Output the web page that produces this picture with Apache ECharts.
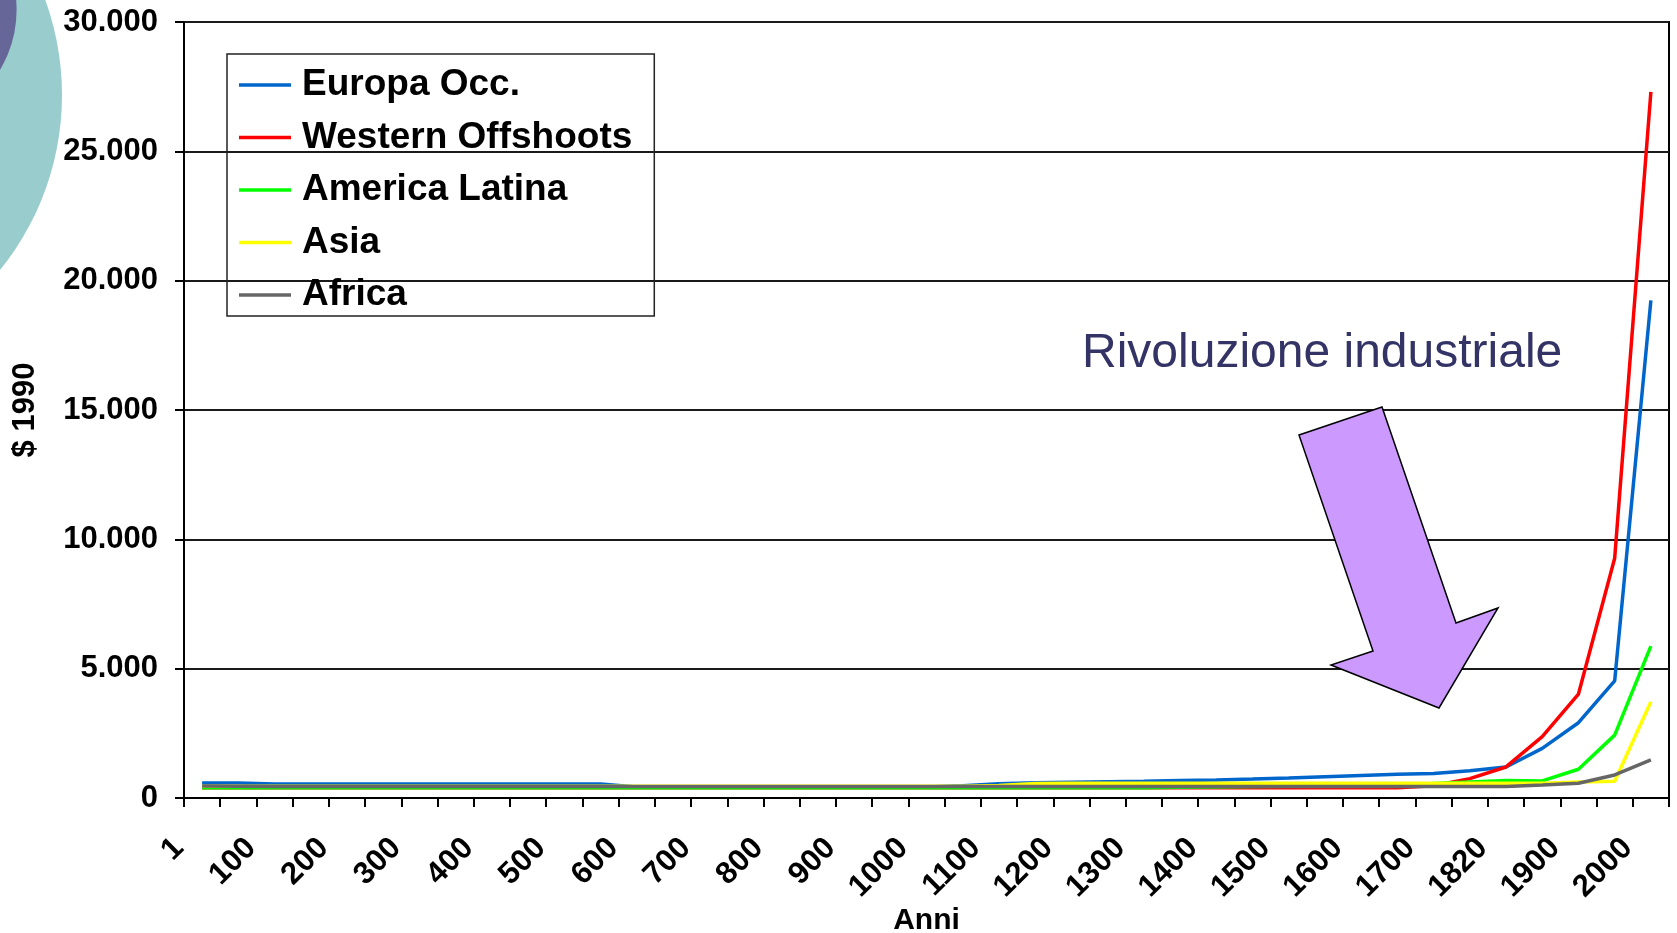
<!DOCTYPE html>
<html>
<head>
<meta charset="utf-8">
<title>PIL pro capite</title>
<script src="https://cdn.jsdelivr.net/npm/echarts/dist/echarts.min.js"></script>
<style>
html, body { margin: 0; padding: 0; background: #fff; }
#chart { width: 1677px; height: 933px; }
</style>
</head>
<body>
<div id="chart"></div>
<script>
// anni (categorie), etichette mostrate una si e una no
const anni = ['1', '50', '100', '150', '200', '250', '300', '350', '400', '450', '500', '550', '600', '650',
  '700', '750', '800', '850', '900', '950', '1000', '1050', '1100', '1150', '1200', '1250', '1300', '1350',
  '1400', '1450', '1500', '1550', '1600', '1650', '1700', '1760', '1820', '1870', '1900', '1950', '2000']

// PIL pro capite, $ 1990
const europaOcc = [576, 576, 540, 540, 540, 540, 540, 540, 540, 540, 540, 540, 430, 430,
  430, 430, 430, 430, 430, 430, 430, 470, 550, 590, 610, 630, 650, 680,
  700, 730, 770, 820, 870, 920, 950, 1050, 1200, 1920, 2910, 4530, 19240]
const westernOffshoots = [400, 400, 400, 400, 400, 400, 400, 400, 400, 400, 400, 400, 400, 400,
  400, 400, 400, 400, 400, 400, 400, 400, 400, 400, 400, 400, 400, 400,
  400, 400, 400, 400, 400, 400, 476, 750, 1200, 2370, 4020, 9270, 27300]
const americaLatina = [400, 400, 400, 400, 400, 400, 400, 400, 400, 400, 400, 400, 400, 400,
  400, 400, 400, 400, 400, 400, 400, 400, 400, 400, 400, 400, 400, 420,
  430, 440, 450, 460, 470, 520, 560, 620, 680, 660, 1110, 2430, 5870]
const asia = [450, 450, 450, 450, 450, 450, 450, 450, 450, 450, 450, 450, 450, 450,
  450, 450, 450, 450, 450, 450, 450, 450, 480, 560, 575, 575, 575, 575,
  575, 575, 575, 575, 575, 575, 575, 575, 575, 575, 620, 650, 3720]
const africa = [460, 450, 440, 440, 440, 440, 440, 440, 440, 440, 440, 440, 440, 440,
  440, 440, 440, 440, 440, 440, 440, 440, 440, 440, 440, 440, 440, 440,
  440, 440, 440, 440, 440, 440, 440, 440, 440, 500, 570, 890, 1470]

const yTicks = [0, 5000, 10000, 15000, 20000, 25000, 30000]

const font = '"Liberation Sans", Arial, sans-serif'

function makeLine (name, color, data) {
  return {
    name: name,
    type: 'line',
    data: data,
    showSymbol: false,
    symbol: 'none',
    lineStyle: { color: color, width: 3.5 },
    itemStyle: { color: color }
  }
}

let myChart = echarts.init(document.getElementById('chart'))
myChart.setOption({
  animation: false,
  backgroundColor: '#fff',
  grid: {
    left: 184,
    right: 8,
    top: 22,
    bottom: 135,
    containLabel: false,
    outerBoundsMode: 'none',
    show: true,
    borderColor: '#000',
    borderWidth: 2
  },
  legend: {
    orient: 'vertical',
    left: 227,
    top: 54,
    padding: [11, 22, 1, 12],
    itemGap: 12.5,
    itemWidth: 52,
    itemHeight: 3.5,
    icon: 'rect',
    borderColor: '#222',
    borderWidth: 1.5,
    borderRadius: 0,
    textStyle: {
      fontFamily: font,
      fontWeight: 'bold',
      fontSize: 37,
      lineHeight: 40,
      color: '#000',
      padding: [0, 0, 0, 6]
    }
  },
  xAxis: {
    type: 'category',
    data: anni,
    boundaryGap: true,
    name: 'Anni',
    nameLocation: 'middle',
    nameGap: 108,
    nameMoveOverlap: false,
    nameTextStyle: { fontFamily: font, fontWeight: 'bold', fontSize: 30, color: '#000' },
    axisLine: { lineStyle: { color: '#000', width: 2 } },
    axisTick: { show: true, interval: 0, length: 9, lineStyle: { color: '#000', width: 2 } },
    axisLabel: {
      interval: 1,
      rotate: 45,
      margin: 22,
      padding: [0, 33, 0, 0],
      fontFamily: font,
      fontWeight: 'bold',
      fontSize: 31,
      color: '#000'
    },
    splitLine: { show: false }
  },
  yAxis: {
    type: 'value',
    min: yTicks[0],
    max: yTicks[yTicks.length - 1],
    interval: yTicks[1] - yTicks[0],
    name: '$ 1990',
    nameLocation: 'middle',
    nameGap: 143,
    nameMoveOverlap: false,
    nameTextStyle: { fontFamily: font, fontWeight: 'bold', fontSize: 31, color: '#000' },
    axisLine: { show: true, lineStyle: { color: '#000', width: 2 } },
    axisTick: { show: true, length: 9, lineStyle: { color: '#000', width: 2 } },
    axisLabel: {
      margin: 26,
      fontFamily: font,
      fontWeight: 'bold',
      fontSize: 31,
      color: '#000',
      formatter: function (v) {
        return v === 0 ? '0' : (v / 1000) + '.000'
      }
    },
    splitLine: { show: true, lineStyle: { color: '#1a1a1a', width: 2 } }
  },
  series: [
    makeLine('Europa Occ.', '#0066cc', europaOcc),
    makeLine('Western Offshoots', '#ff0000', westernOffshoots),
    makeLine('America Latina', '#00ff00', americaLatina),
    makeLine('Asia', '#ffff00', asia),
    makeLine('Africa', '#666666', africa)
  ],
  graphic: [
    // cerchi decorativi della slide
    { type: 'circle', z: -10, shape: { cx: -216, cy: 95, r: 278 }, style: { fill: '#99cccc' } },
    { type: 'circle', z: -9, shape: { cx: -100, cy: 10, r: 116.6 }, style: { fill: '#666699' } },
    {
      type: 'polygon',
      z: 20,
      shape: {
        points: [[1299, 435], [1382, 407], [1456, 623], [1498, 608], [1439, 708], [1331, 665], [1373, 651]]
      },
      style: { fill: '#cc99ff', stroke: '#000', lineWidth: 1.5 }
    },
    {
      type: 'text',
      z: 20,
      x: 1082,
      y: 354,
      style: {
        text: 'Rivoluzione industriale',
        font: '48px "Liberation Sans", Arial, sans-serif',
        fill: '#333366',
        verticalAlign: 'middle'
      }
    }
  ]
})
</script>
</body>
</html>
